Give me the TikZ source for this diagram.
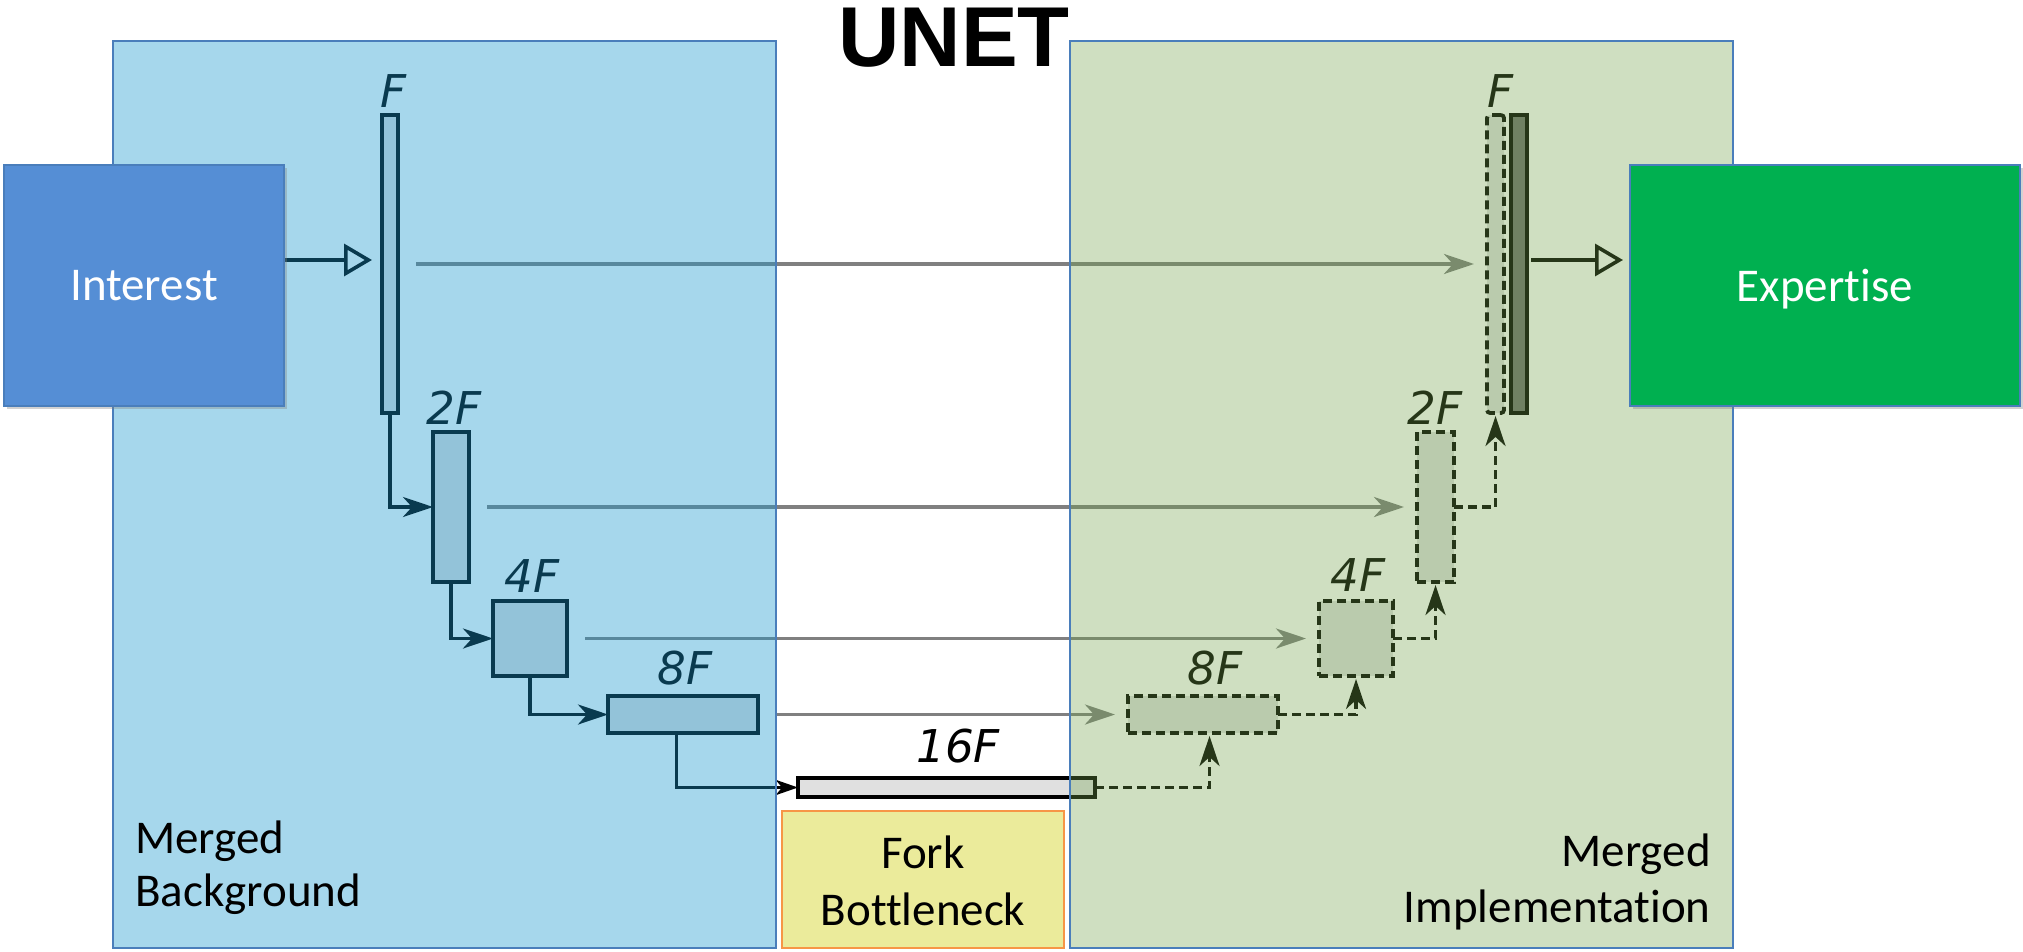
\documentclass[tikz,border=0pt]{standalone}
\usepackage{fontspec}
\setmainfont{Carlito}[Ligatures=NoCommon]
\newfontfamily\flabfont{DejaVu Sans Oblique}
\newfontfamily\titlefont{Liberation Sans}
\usetikzlibrary{arrows.meta,shadows}
\pgfdeclarelayer{ubase}
\pgfdeclarelayer{tint}
\pgfsetlayers{ubase,tint,main}

\definecolor{tintblue}{RGB}{26,151,206}
\definecolor{tintgreen}{RGB}{113,163,74}
\definecolor{panelline}{RGB}{74,126,187}
\definecolor{boxgrey}{RGB}{224,224,224}
\definecolor{skipgrey}{RGB}{128,128,128}
\definecolor{outgrey}{RGB}{112,112,112}
\definecolor{forkfill}{RGB}{235,235,155}
\definecolor{forkline}{RGB}{247,150,70}
\definecolor{interestfill}{RGB}{85,142,213}
\definecolor{expertfill}{RGB}{0,176,80}

\tikzset{
  ubox/.style={draw=black, line width=1.9pt, fill=boxgrey, inner sep=0pt, outer sep=0pt},
  dbox/.style={ubox, dash pattern=on 4.5pt off 2.5pt},
  flab/.style={font=\flabfont\fontsize{22.6}{26}\selectfont, inner sep=0pt, text=black},
  downlink/.style={draw=black, line width=1.8pt, -{Stealth[length=15pt,width=10pt,inset=4.5pt]}},
  uplink/.style={downlink, dash pattern=on 4.5pt off 2.5pt, shorten >=1.5pt},
  skiplink/.style={draw=skipgrey, line width=1.8pt, -{Stealth[length=15pt,width=10pt,inset=4.5pt]}, shorten <=9pt, shorten >=6.5pt},
  feedlink/.style={draw=black, line width=1.8pt, -{Triangle[open,length=14pt,width=16pt]}},
  panel/.style={inner sep=0pt, outer sep=0pt, draw=panelline, line width=1pt},
  card/.style={inner sep=0pt, outer sep=0pt, draw=panelline, line width=1pt, text=white, text depth=0pt,
    font=\fontsize{23.5}{28}\selectfont,
    drop shadow={shadow xshift=1.5pt, shadow yshift=-1.5pt, opacity=0.35}},
  lbl/.style={font=\fontsize{23.5}{28}\selectfont, inner sep=0pt, text=black}
}

\begin{document}
\begin{tikzpicture}[x=0.5pt,y=-0.5pt]
\useasboundingbox (0,0) rectangle (2023,952);

% ---------- top layer: cards, labels, title ----------
\node[card, fill=interestfill, minimum width=140pt, minimum height=120.5pt] (Interest) at (144,285.5) {Interest};
\node[card, fill=expertfill, minimum width=195pt, minimum height=120.5pt] (Expertise) at (1825,285.5) {Expertise};

\node[panel, draw=forkline, fill=forkfill, minimum width=141pt, minimum height=68.5pt] (fork) at (923,879.5) {};

\node[lbl, anchor=base west] (mb1) at (135,853) {Merged};
\node[lbl, anchor=base west] (mb2) at (135,906) {Background};
\node[lbl, anchor=base] (fb1) at (923,868) {Fork};
\node[lbl, anchor=base] (fb2) at (923,925) {Bottleneck};
\node[lbl, anchor=base east] (mi1) at (1711,866) {Merged};
\node[lbl, anchor=base east] (mi2) at (1711,922) {Implementation};

\node[font=\titlefont\bfseries\fontsize{42.5}{50}\selectfont, anchor=base, inner sep=0pt] (title) at (954,67) {UNET};

% ---------- tint layer: panels ----------
\begin{pgfonlayer}{tint}
\node[panel, fill=tintblue, fill opacity=0.385, minimum width=331.5pt, minimum height=453.5pt] (bgpanel) at (444.5,494.5) {};
\node[panel, fill=tintgreen, fill opacity=0.337, minimum width=331.5pt, minimum height=453.5pt] (impanel) at (1401.5,494.5) {};
\end{pgfonlayer}

% ---------- base layer: the U-Net drawing ----------
\begin{pgfonlayer}{ubase}
\fill[white] (0,0) rectangle (2023,952);

% encoder
\node[ubox, minimum width=8pt, minimum height=149pt] (eF) at (390,264) {};
\node[ubox, minimum width=18pt, minimum height=75pt] (e2F) at (451,507) {};
\node[ubox, minimum width=37pt, minimum height=37.5pt] (e4F) at (530,638.5) {};
\node[ubox, minimum width=75pt, minimum height=18.5pt] (e8F) at (683,714.5) {};
% bottleneck
\node[ubox, minimum width=148.5pt, minimum height=9.5pt] (b16) at (946.5,787.5) {};
% decoder
\node[dbox, minimum width=75pt, minimum height=18.5pt] (d8F) at (1203,714.5) {};
\node[dbox, minimum width=37pt, minimum height=37.5pt] (d4F) at (1356,638.5) {};
\node[dbox, minimum width=18.5pt, minimum height=75pt] (d2F) at (1435.5,507) {};
\node[dbox, rounded corners=1.5pt, minimum width=8.5pt, minimum height=149pt] (dF) at (1495.5,264) {};
\node[ubox, fill=outgrey, minimum width=8pt, minimum height=149pt] (oF) at (1519,264) {};

% size labels
\node[flab] (leF) at (393,91) {F};
\node[flab] (le2F) at (454,408) {2F};
\node[flab] (le4F) at (532,576) {4F};
\node[flab] (le8F) at (685,668) {8F};
\node[flab] (lb16) at (958,746) {16F};
\node[flab] (ld8F) at (1215,668) {8F};
\node[flab] (ld4F) at (1358,575) {4F};
\node[flab] (ld2F) at (1435,408) {2F};
\node[flab] (ldF) at (1500,91) {F};

% skip connections
\draw[skiplink] (eF.east) -- (dF.west);
\draw[skiplink] (e2F.east) -- (d2F.west);
\draw[skiplink] (e4F.east) -- (d4F.west);
\draw[skiplink] (e8F.east) -- (d8F.west);

% contracting path
\draw[downlink] (eF.south) |- (e2F.west);
\draw[downlink] (e2F.south) |- (e4F.west);
\draw[downlink] (e4F.south) |- (e8F.west);
\draw[draw=black, line width=1.8pt, -{Stealth[length=11pt,width=7.5pt,inset=3pt]}] ([xshift=-3.25pt]e8F.south) |- (b16.west);

% expanding path
\draw[uplink] (b16.east) -| ([xshift=3.25pt]d8F.south);
\draw[uplink] (d8F.east) -| (d4F.south);
\draw[uplink] (d4F.east) -| (d2F.south);
\draw[uplink] (d2F.east) -| (dF.south);

% input / output
\coordinate (row) at (0,260);
\draw[feedlink] (Interest.east |- row) -- ([xshift=-5pt]eF.west |- row);
\draw[feedlink, shorten <=2pt] (oF.east |- row) -- ([xshift=-3.5pt]Expertise.west |- row);
\end{pgfonlayer}
\end{tikzpicture}
\end{document}
